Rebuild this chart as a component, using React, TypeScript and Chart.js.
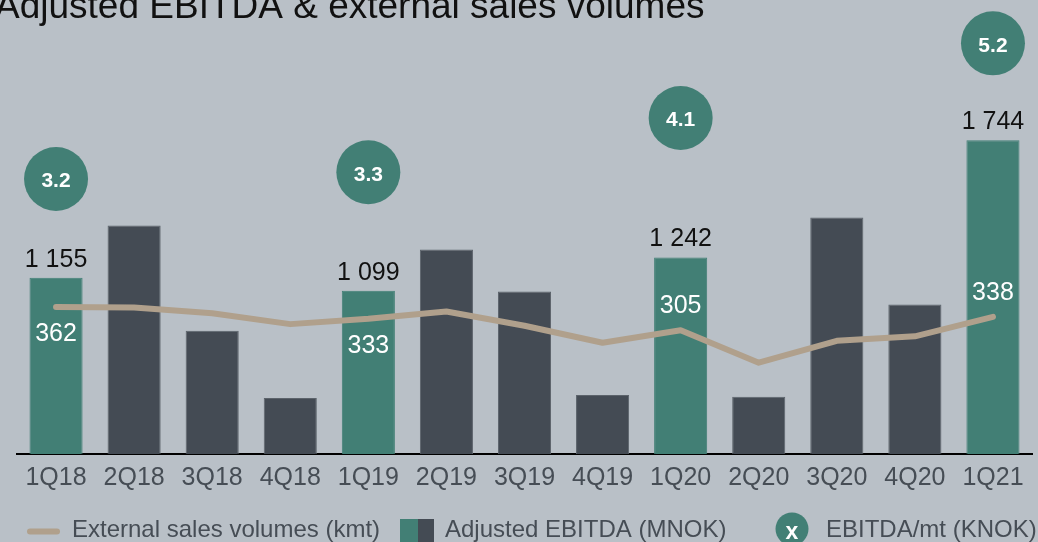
import React, { useEffect, useRef } from "react";
import { Chart, registerables } from "chart.js";

Chart.register(...registerables);

const titleText = "Adjusted EBITDA & external sales volumes";
const categories = ["1Q18", "2Q18", "3Q18", "4Q18", "1Q19", "2Q19", "3Q19", "4Q19", "1Q20", "2Q20", "3Q20", "4Q20", "1Q21"];
const adjustedEbitda = [1155, 1379, 928, 640, 1099, 1276, 1096, 653, 1242, 645, 1413, 1040, 1744];
const externalSales = [362, 361, 347, 320, 333, 351, 316, 274, 305, 225, 279, 290, 338];
const ebitdaPerMt = [3.2, null, null, null, 3.3, null, null, null, 4.1, null, null, null, 5.2];
const salesLabelPlacement = ["below", "", "", "", "below", "", "", "", "above", "", "", "", "above"];
const legendLabels = ["External sales volumes (kmt)", "Adjusted EBITDA (MNOK)", "EBITDA/mt (KNOK)"];

const BG = "rgb(185,192,199)";
const TEAL = "rgb(66,127,117)";
const DARK = "rgb(68,75,84)";
const DARK_EDGE = "rgb(92,99,107)";
const BEIGE = "rgb(176,160,140)";
const TEXT_GREY = "rgb(70,77,85)";
const FONT = "'Liberation Sans', Arial, sans-serif";

const isQ1 = categories.map((c) => c.startsWith("1Q"));

const fmt = (n: number) => String(n).replace(/\B(?=(\d{3})+(?!\d))/g, " ");

const labelPlugin = {
  id: "customLabels",
  afterDatasetsDraw(chart: any) {
    const ctx = chart.ctx;
    ctx.save();
    const barMeta = chart.getDatasetMeta(0);
    ctx.font = `25px ${FONT}`;
    ctx.textAlign = "center";
    ctx.textBaseline = "alphabetic";
    barMeta.data.forEach((el: any, i: number) => {
      if (!isQ1[i]) return;
      ctx.fillStyle = "#111";
      ctx.fillText(fmt(adjustedEbitda[i]), el.x, el.y - 11);
    });
    const lineMeta = chart.getDatasetMeta(1);
    lineMeta.data.forEach((el: any, i: number) => {
      const p = salesLabelPlacement[i];
      if (!p) return;
      ctx.fillStyle = "#fff";
      const y = p === "below" ? el.y + 34 : el.y - 17;
      ctx.fillText(String(externalSales[i]), el.x, y);
    });
    const cMeta = chart.getDatasetMeta(2);
    ctx.font = `bold 21px ${FONT}`;
    cMeta.data.forEach((el: any, i: number) => {
      const v = ebitdaPerMt[i];
      if (v == null) return;
      ctx.fillStyle = "#fff";
      ctx.fillText(v.toFixed(1), el.x, el.y + 8.5);
    });
    ctx.restore();
  },
  afterDraw(chart: any) {
    const ctx = chart.ctx;
    ctx.save();
    ctx.font = `37px ${FONT}`;
    ctx.fillStyle = "#111";
    ctx.textAlign = "left";
    ctx.textBaseline = "alphabetic";
    ctx.fillText(titleText, -5, 17.5);

    const ly = 536.5;
    ctx.lineCap = "round";
    ctx.strokeStyle = BEIGE;
    ctx.lineWidth = 6;
    ctx.beginPath();
    ctx.moveTo(30, 531.5);
    ctx.lineTo(57, 531.5);
    ctx.stroke();
    ctx.font = `24px ${FONT}`;
    ctx.fillStyle = TEXT_GREY;
    ctx.fillText(legendLabels[0], 72, ly);

    ctx.fillStyle = TEAL;
    ctx.fillRect(400, 519, 18, 26);
    ctx.fillStyle = DARK;
    ctx.fillRect(418, 519, 16, 26);
    ctx.fillStyle = TEXT_GREY;
    ctx.fillText(legendLabels[1], 445, ly);

    ctx.fillStyle = TEAL;
    ctx.beginPath();
    ctx.arc(792, 529, 16.5, 0, Math.PI * 2);
    ctx.fill();
    ctx.fillStyle = "#fff";
    ctx.font = `bold 23px ${FONT}`;
    ctx.textAlign = "center";
    ctx.fillText("x", 792, 539);
    ctx.textAlign = "left";
    ctx.font = `24px ${FONT}`;
    ctx.fillStyle = TEXT_GREY;
    ctx.fillText(legendLabels[2], 826, ly);
    ctx.restore();
  },
};

export default function App() {
  const ref = useRef<HTMLCanvasElement | null>(null);
  useEffect(() => {
    document.body.style.margin = "0";
    const canvas = ref.current;
    if (!canvas) return;
    const chart = new Chart(canvas, {
      type: "bar",
      data: {
        labels: categories,
        datasets: [
          {
            type: "bar",
            label: legendLabels[1],
            data: adjustedEbitda,
            backgroundColor: isQ1.map((q) => (q ? TEAL : DARK)),
            borderColor: isQ1.map((q) => (q ? TEAL : DARK_EDGE)),
            borderWidth: 1,
            barPercentage: 0.68,
            categoryPercentage: 1,
            yAxisID: "y",
            order: 3,
          },
          {
            type: "line",
            label: legendLabels[0],
            data: externalSales,
            borderColor: BEIGE,
            borderWidth: 6,
            borderCapStyle: "round",
            borderJoinStyle: "round",
            pointRadius: 0,
            tension: 0,
            yAxisID: "y2",
            order: 2,
          },
          {
            type: "line",
            label: legendLabels[2],
            data: ebitdaPerMt as any,
            showLine: false,
            pointRadius: 32,
            pointHoverRadius: 32,
            pointBackgroundColor: TEAL,
            pointBorderWidth: 0,
            borderColor: TEAL,
            yAxisID: "y3",
            order: 1,
            clip: false,
          },
        ] as any,
      },
      options: {
        responsive: false,
        animation: false,
        events: [],
        layout: { autoPadding: false, padding: { left: 17, right: 6, top: 10, bottom: 40 } },
        plugins: {
          legend: { display: false },
          tooltip: { enabled: false },
          title: { display: false },
        },
        scales: {
          x: {
            grid: { display: false, drawTicks: false },
            border: { display: true, color: "#000", width: 2 },
            ticks: {
              color: TEXT_GREY,
              font: { family: FONT, size: 25 },
              padding: 9,
              maxRotation: 0,
              autoSkip: false,
            },
            afterFit(scale: any) {
              scale.paddingLeft = 0;
              scale.paddingRight = 0;
            },
          },
          y: { display: false, min: 400, max: 2302 },
          y2: { display: false, min: 0, max: 1094 },
          y3: { display: false, min: -0.856, max: 5.692 },
        },
      } as any,
      plugins: [labelPlugin],
    });
    return () => chart.destroy();
  }, []);

  return (
    <div style={{ position: "fixed", left: 0, top: 0, width: 1038, height: 542, background: BG, overflow: "hidden" }}>
      <canvas ref={ref} width={1038} height={542} style={{ display: "block", width: 1038, height: 542 }} />
    </div>
  );
}
